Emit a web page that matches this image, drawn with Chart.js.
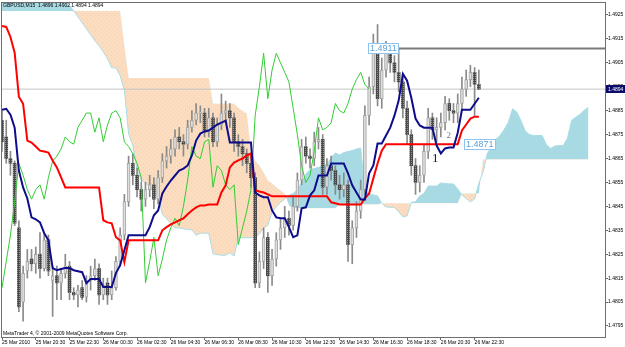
<!DOCTYPE html>
<html><head><meta charset="utf-8">
<script src="https://cdn.jsdelivr.net/npm/chart.js@4.4.0/dist/chart.umd.min.js"></script>
<style>html,body{margin:0;padding:0;background:#fff;overflow:hidden}canvas{display:block}</style>
</head><body>
<canvas id="c" width="625" height="347"></canvas>
<script>
// ---------- DATA ----------
const symbolTitle = "GBPUSD,M15";
const lastOHLC = [1.4896, 1.4902, 1.4894, 1.4894];
const copyrightText = "MetaTrader 4, \u00A9 2001-2009 MetaQuotes Software Corp.";
const xTickBars = [0, 8, 16, 24, 32, 40, 48, 56, 64, 72, 80, 88, 96, 104, 112];
const xTickLabels = ["25 Mar 2010", "25 Mar 20:30", "25 Mar 22:30", "26 Mar 00:30", "26 Mar 02:30",
  "26 Mar 04:30", "26 Mar 06:30", "26 Mar 08:30", "26 Mar 10:30", "26 Mar 12:30", "26 Mar 14:30",
  "26 Mar 16:30", "26 Mar 18:30", "26 Mar 20:30", "26 Mar 22:30"];
const yTicks = [1.4795, 1.4805, 1.4815, 1.4825, 1.4835, 1.4845, 1.4855, 1.4865, 1.4875, 1.4885, 1.4895, 1.4905, 1.4915, 1.4925];

const opens = [1.4881,1.4874,1.4865,1.4863,1.4836,1.4805,1.4818,1.4823,1.4821,1.4825,
 1.4819,1.4831,1.4814,1.4816,1.4813,1.4817,1.4820,1.4809,1.4808,1.4811,
 1.4807,1.4814,1.4816,1.4819,1.4808,1.4813,1.4808,1.4811,1.4822,1.4833,
 1.4847,1.4863,1.4858,1.4852,1.4848,1.4852,1.4854,1.4848,1.4857,1.4864,
 1.4866,1.4869,1.4874,1.4872,1.4871,1.4878,1.4881,1.4884,1.4884,1.4876,
 1.4882,1.4872,1.4879,1.4884,1.4885,1.4882,1.4872,1.4870,1.4867,1.4863,
 1.4857,1.4813,1.4822,1.4832,1.4816,1.4823,1.4831,1.4836,1.4840,1.4837,
 1.4845,1.4856,1.4870,1.4866,1.4865,1.4872,1.4873,1.4853,1.4862,1.4860,
 1.4854,1.4852,1.4854,1.4829,1.4836,1.4843,1.4852,1.4883,1.4895,1.4909,
 1.4890,1.4902,1.4909,1.4905,1.4901,1.4897,1.4886,1.4875,1.4862,1.4855,
 1.4858,1.4868,1.4882,1.4877,1.4878,1.4880,1.4888,1.4885,1.4884,1.4888,
 1.4894,1.4898,1.4901,1.4896];
const highs = [1.4885,1.4881,1.4868,1.4864,1.4839,1.4820,1.4827,1.4827,1.4828,1.4834,
 1.4834,1.4833,1.4820,1.4820,1.4819,1.4825,1.4822,1.4811,1.4812,1.4814,
 1.4816,1.4820,1.4823,1.4821,1.4815,1.4815,1.4818,1.4824,1.4836,1.4850,
 1.4866,1.4867,1.4861,1.4855,1.4855,1.4858,1.4857,1.4860,1.4867,1.4870,
 1.4873,1.4877,1.4878,1.4875,1.4881,1.4885,1.4888,1.4887,1.4886,1.4886,
 1.4884,1.4882,1.4892,1.4889,1.4888,1.4884,1.4875,1.4873,1.4869,1.4866,
 1.4859,1.4826,1.4836,1.4834,1.4827,1.4834,1.4840,1.4845,1.4843,1.4849,
 1.4859,1.4873,1.4874,1.4869,1.4876,1.4878,1.4875,1.4865,1.4866,1.4862,
 1.4858,1.4859,1.4856,1.4839,1.4847,1.4856,1.4887,1.4899,1.4917,1.4921,
 1.4907,1.4914,1.4913,1.4908,1.4911,1.4900,1.4889,1.4877,1.4865,1.4862,
 1.4871,1.4886,1.4884,1.4882,1.4884,1.4891,1.4890,1.4888,1.4892,1.4899,
 1.4902,1.4904,1.4903,1.4902];
const lows = [1.4868,1.4863,1.4858,1.4837,1.4801,1.4797,1.4815,1.4818,1.4817,1.4815,
 1.4818,1.4816,1.4799,1.4806,1.4806,1.4815,1.4806,1.4806,1.4803,1.4806,
 1.4805,1.4810,1.4814,1.4804,1.4806,1.4804,1.4806,1.4810,1.4820,1.4831,
 1.4845,1.4854,1.4849,1.4843,1.4845,1.4849,1.4844,1.4846,1.4855,1.4861,
 1.4863,1.4866,1.4869,1.4866,1.4869,1.4876,1.4879,1.4880,1.4874,1.4874,
 1.4870,1.4870,1.4877,1.4880,1.4878,1.4868,1.4866,1.4862,1.4859,1.4853,
 1.4811,1.4811,1.4819,1.4809,1.4812,1.4820,1.4827,1.4832,1.4833,1.4835,
 1.4843,1.4854,1.4863,1.4861,1.4862,1.4869,1.4850,1.4850,1.4856,1.4850,
 1.4848,1.4849,1.4822,1.4821,1.4832,1.4840,1.4850,1.4879,1.4892,1.4887,
 1.4886,1.4899,1.4901,1.4897,1.4893,1.4882,1.4871,1.4858,1.4850,1.4851,
 1.4855,1.4865,1.4873,1.4872,1.4874,1.4877,1.4881,1.4880,1.4880,1.4885,
 1.4891,1.4895,1.4883,1.4894];
const closes = [1.4872,1.4865,1.4863,1.4838,1.4803,1.4817,1.4822,1.4821,1.4825,1.4819,
 1.4831,1.4818,1.4816,1.4813,1.4817,1.4820,1.4809,1.4808,1.4810,1.4807,
 1.4814,1.4816,1.4819,1.4808,1.4812,1.4808,1.4811,1.4822,1.4833,1.4847,
 1.4863,1.4858,1.4852,1.4848,1.4852,1.4854,1.4848,1.4857,1.4864,1.4866,
 1.4869,1.4874,1.4872,1.4871,1.4878,1.4881,1.4884,1.4884,1.4876,1.4882,
 1.4872,1.4879,1.4884,1.4885,1.4882,1.4872,1.4870,1.4867,1.4863,1.4857,
 1.4813,1.4822,1.4832,1.4816,1.4823,1.4831,1.4836,1.4840,1.4837,1.4845,
 1.4856,1.4870,1.4866,1.4865,1.4872,1.4873,1.4853,1.4862,1.4860,1.4854,
 1.4852,1.4854,1.4829,1.4836,1.4843,1.4852,1.4883,1.4895,1.4909,1.4890,
 1.4902,1.4909,1.4905,1.4901,1.4897,1.4886,1.4875,1.4862,1.4855,1.4858,
 1.4868,1.4882,1.4877,1.4878,1.4880,1.4888,1.4885,1.4884,1.4888,1.4894,
 1.4898,1.4901,1.4896,1.4894];

const tenkan = [1.48854,1.48858,1.48833,1.48779,1.48600,1.48529,1.48483,1.48404,1.48396,1.48383,
 1.48338,1.48308,1.48192,1.48183,1.48188,1.48192,1.48192,1.48183,1.48179,1.48175,
 1.48129,1.48146,1.48146,1.48146,1.48113,1.48113,1.48113,1.48171,1.48204,1.48267,
 1.48329,1.48329,1.48329,1.48329,1.48329,1.48363,1.48413,1.48433,1.48504,1.48533,
 1.48558,1.48579,1.48600,1.48608,1.48621,1.48663,1.48725,1.48754,1.48763,1.48767,
 1.48779,1.48792,1.48800,1.48808,1.48717,1.48717,1.48717,1.48717,1.48717,1.48717,
 1.48508,1.48496,1.48488,1.48488,1.48433,1.48404,1.48400,1.48400,1.48363,1.48321,
 1.48329,1.48442,1.48446,1.48496,1.48517,1.48579,1.48579,1.48579,1.48629,1.48629,
 1.48629,1.48629,1.48588,1.48538,1.48508,1.48479,1.48479,1.48588,1.48621,1.48713,
 1.48713,1.48746,1.48779,1.48829,1.48892,1.49004,1.48975,1.48904,1.48817,1.48788,
 1.48779,1.48779,1.48779,1.48704,1.48671,1.48692,1.48696,1.48696,1.48758,1.48854,
 1.48854,1.48854,1.48879,1.48904];
const kijun = [1.49204,1.49200,1.49158,1.49092,1.48908,1.48879,1.48725,1.48717,1.48700,1.48683,
 1.48679,1.48675,1.48642,1.48613,1.48571,1.48529,1.48529,1.48529,1.48529,1.48529,
 1.48529,1.48529,1.48529,1.48529,1.48392,1.48383,1.48379,1.48321,1.48308,1.48217,
 1.48308,1.48308,1.48308,1.48308,1.48308,1.48308,1.48308,1.48308,1.48350,1.48363,
 1.48375,1.48383,1.48392,1.48400,1.48417,1.48433,1.48446,1.48454,1.48454,1.48458,
 1.48458,1.48458,1.48508,1.48538,1.48613,1.48633,1.48642,1.48650,1.48663,1.48671,
 1.48517,1.48512,1.48508,1.48500,1.48492,1.48492,1.48492,1.48492,1.48492,1.48492,
 1.48492,1.48492,1.48492,1.48492,1.48492,1.48492,1.48492,1.48492,1.48467,1.48463,
 1.48458,1.48458,1.48458,1.48458,1.48458,1.48458,1.48483,1.48504,1.48567,1.48629,
 1.48683,1.48710,1.48710,1.48710,1.48710,1.48710,1.48710,1.48710,1.48710,1.48710,
 1.48710,1.48710,1.48710,1.48710,1.48710,1.48710,1.48710,1.48710,1.48710,1.48767,
 1.48792,1.48817,1.48825,1.48825];
const senkouA = [1.4950,1.4949,1.4948,1.4947,1.4946,1.4945,1.4944,1.4942,1.4940,1.4939,
 1.4938,1.4936,1.4935,1.4933,1.4932,1.4930,1.4929,1.49267,1.49242,1.49217,
 1.49192,1.49167,1.49142,1.49121,1.49096,1.49067,1.49029,1.49029,1.48996,1.48935,
 1.48754,1.48704,1.48604,1.48560,1.48548,1.48533,1.48508,1.48492,1.48417,1.48398,
 1.48379,1.48360,1.48360,1.48356,1.48354,1.48352,1.48329,1.48338,1.48338,1.48338,
 1.48252,1.48248,1.48246,1.48246,1.48256,1.48242,1.48319,1.48319,1.48319,1.48319,
 1.48319,1.48335,1.48360,1.48371,1.48427,1.48448,1.48467,1.48481,1.48496,1.48504,
 1.48519,1.48548,1.48585,1.48604,1.48608,1.48613,1.48619,1.48625,1.48654,1.48673,
 1.48665,1.48675,1.48679,1.48683,1.48690,1.48694,1.48513,1.48504,1.48498,1.48494,
 1.48463,1.48448,1.48446,1.48446,1.48427,1.48406,1.48410,1.48467,1.48469,1.48494,
 1.48504,1.48535,1.48535,1.48535,1.48548,1.48546,1.48544,1.48544,1.48523,1.48498,
 1.48483,1.48469,1.48481,1.48546,1.48594,1.48671,1.48698,1.48729,1.48746,1.48771,
 1.48802,1.48858,1.48844,1.48808,1.48765,1.48750,1.48746,1.48746,1.48746,1.48708,
 1.48692,1.48702,1.48704,1.48704,1.48735,1.48810,1.48823,1.48835,1.48852,1.48864];
const senkouB = [1.49267,1.49267,1.49267,1.49267,1.49267,1.49267,1.49267,1.49267,1.49267,1.49267,
 1.49267,1.49267,1.49267,1.49267,1.49267,1.49267,1.49267,1.49267,1.49267,1.49267,
 1.49267,1.49267,1.49267,1.49267,1.49267,1.49267,1.49267,1.49267,1.49267,1.49121,
 1.48987,1.48987,1.48987,1.48987,1.48987,1.48987,1.48987,1.48987,1.48987,1.48987,
 1.48987,1.48987,1.48987,1.48987,1.48987,1.48987,1.48987,1.48987,1.48987,1.48987,
 1.48879,1.48879,1.48879,1.48879,1.48879,1.48879,1.48862,1.48850,1.48837,1.48683,
 1.48642,1.48621,1.48592,1.48558,1.48546,1.48529,1.48517,1.48504,1.48454,1.48442,
 1.48442,1.48442,1.48442,1.48442,1.48442,1.48442,1.48442,1.48442,1.48442,1.48442,
 1.48458,1.48458,1.48458,1.48458,1.48458,1.48458,1.48458,1.48458,1.48458,1.48458,
 1.48463,1.48463,1.48463,1.48463,1.48463,1.48463,1.48463,1.48463,1.48463,1.48463,
 1.48463,1.48463,1.48463,1.48463,1.48463,1.48463,1.48463,1.48463,1.48463,1.48504,
 1.48504,1.48504,1.48504,1.48504,1.48646,1.48646,1.48646,1.48646,1.48646,1.48646,
 1.48646,1.48646,1.48646,1.48646,1.48646,1.48646,1.48646,1.48646,1.48646,1.48646,
 1.48646,1.48646,1.48646,1.48646,1.48646,1.48646,1.48646,1.48646,1.48646,1.48646];
const chikouShift = 26;
const currentPrice = 1.4894;
const levelPrice = 1.4911;
const levelStartBar = 94;
const kijunLevel = 1.4871;

// ---------- BUILD ----------
const FONT = '"Liberation Sans", Arial, sans-serif';
function mkPattern(w, h, base, dots, dotColor) {
  const c = document.createElement('canvas'); c.width = w; c.height = h;
  const g = c.getContext('2d'); g.fillStyle = base; g.fillRect(0, 0, w, h);
  g.fillStyle = dotColor; dots.forEach(d => g.fillRect(d[0], d[1], 1, 1));
  return document.getElementById('c').getContext('2d').createPattern(c, 'repeat');
}
const peachFill = mkPattern(4, 4, '#FCDDC0', [[1, 1], [3, 3]], '#F4D0AE');
const bearFill = mkPattern(2, 2, '#4A4A4A', [[1, 0]], '#909090');

const pts = arr => arr.map((v, i) => ({x: i, y: v}));
const wickData = highs.map((h, i) => ({x: i, y: [lows[i], h]}));
const bullData = [], bearData = [];
opens.forEach((o, i) => {
  const c = closes[i];
  if (c >= o) bullData.push({x: i, y: [o, c]}); else bearData.push({x: i, y: [c, o]});
});
const chikouData = closes.slice(chikouShift).map((v, i) => ({x: i, y: v}));
const XMAX = 142.9;

const overlay = {
  id: 'overlay',
  afterDatasetsDraw(chart) {
    const ctx = chart.ctx, xs = chart.scales.x, ys = chart.scales.y, ca = chart.chartArea;
    ctx.save();
    ctx.beginPath(); ctx.rect(ca.left, ca.top, ca.right - ca.left, ca.bottom - ca.top); ctx.clip();
    function boxLabel(text, x, y, alignRight) {
      ctx.font = '9px ' + FONT;
      const w = Math.round(ctx.measureText(text).width) + 4, h = 11;
      const bx = alignRight ? x - w : x, by = Math.round(y - h / 2);
      ctx.fillStyle = '#ffffff'; ctx.fillRect(bx, by, w, h);
      ctx.strokeStyle = '#8EC5EE'; ctx.lineWidth = 1; ctx.strokeRect(bx + 0.5, by + 0.5, w - 1, h - 1);
      ctx.fillStyle = '#5EA3DC'; ctx.textBaseline = 'middle'; ctx.textAlign = 'left';
      ctx.fillText(text, bx + 2, by + h / 2 + 0.5);
    }
    boxLabel(levelPrice.toFixed(4), Math.round(xs.getPixelForValue(levelStartBar)), ys.getPixelForValue(levelPrice), true);
    boxLabel(kijunLevel.toFixed(4), Math.round(xs.getPixelForValue(109.4)), ys.getPixelForValue(kijunLevel), false);
    ctx.textAlign = 'center'; ctx.textBaseline = 'middle';
    ctx.font = '13px "Liberation Serif", serif'; ctx.fillStyle = '#1E1E1E';
    ctx.fillText('1', xs.getPixelForValue(102.7), ys.getPixelForValue(1.4865));
    ctx.font = '9px "Liberation Serif", serif'; ctx.fillStyle = '#7A7A7A';
    ctx.fillText('2', xs.getPixelForValue(105.9), ys.getPixelForValue(1.48746));
    ctx.textAlign = 'left'; ctx.textBaseline = 'middle'; ctx.fillStyle = '#000';
    ctx.font = '5px ' + FONT;
    ctx.fillText(symbolTitle + '  ' + lastOHLC.map(v => v.toFixed(4)).join(' '), 3, 6);
    ctx.fillText(copyrightText, 3, 334);
    ctx.restore();
  },
  afterDraw(chart) {
    const ctx = chart.ctx, ys = chart.scales.y, ca = chart.chartArea;
    ctx.save();
    ctx.strokeStyle = '#6E6E6E'; ctx.lineWidth = 1;
    ctx.strokeRect(ca.left - 0.5, ca.top - 0.5, ca.right - ca.left + 1, ca.bottom - ca.top + 1);
    const py = Math.round(ys.getPixelForValue(currentPrice));
    ctx.fillStyle = '#0B0B6A'; ctx.fillRect(ca.right + 1, py - 4, 19, 8);
    ctx.fillStyle = '#ffffff'; ctx.font = '5px ' + FONT; ctx.textBaseline = 'middle'; ctx.textAlign = 'left';
    ctx.fillText(currentPrice.toFixed(4), ca.right + 3, py + 0.5);
    ctx.restore();
  }
};

new Chart(document.getElementById('c'), {
  type: 'line',
  data: {
    datasets: [
      {type: 'line', label: 'Senkou A', data: pts(senkouA), borderColor: '#A9DCE6', borderWidth: 1,
       pointRadius: 0, tension: 0, order: 20, fill: {target: 1, above: '#A8DAE4', below: peachFill}},
      {type: 'line', label: 'Senkou B', data: pts(senkouB), borderColor: 'rgba(0,0,0,0)', borderWidth: 0,
       pointRadius: 0, tension: 0, order: 19, fill: false},
      {type: 'line', label: 'Price', data: [{x: 0, y: currentPrice}, {x: XMAX, y: currentPrice}],
       borderColor: '#C4C4C4', borderWidth: 1, pointRadius: 0, order: 18, fill: false},
      {type: 'bar', label: 'Wicks', data: wickData, backgroundColor: '#8A8A8A', barThickness: 1,
       grouped: false, order: 17},
      {type: 'bar', label: 'Bull', data: bullData, backgroundColor: '#DEDEDE', borderColor: '#A4A4A4',
       borderWidth: 1, borderSkipped: false, barThickness: 3, grouped: false, minBarLength: 1, order: 16},
      {type: 'bar', label: 'Bear', data: bearData, backgroundColor: bearFill, borderWidth: 0,
       barThickness: 3, grouped: false, minBarLength: 1, order: 15},
      {type: 'line', label: 'Chikou', data: chikouData, borderColor: '#33CC33', borderWidth: 1,
       pointRadius: 0, tension: 0, order: 14, fill: false},
      {type: 'line', label: 'Kijun', data: pts(kijun), borderColor: '#FF0000', borderWidth: 2,
       pointRadius: 0, tension: 0, order: 13, fill: false},
      {type: 'line', label: 'Tenkan', data: pts(tenkan), borderColor: '#0D0D8C', borderWidth: 2,
       pointRadius: 0, tension: 0, order: 12, fill: false},
      {type: 'line', label: 'Level', data: [{x: levelStartBar, y: levelPrice}, {x: XMAX, y: levelPrice}],
       borderColor: '#7A7A7A', borderWidth: 2, pointRadius: 0, order: 11, fill: false}
    ]
  },
  options: {
    responsive: false, animation: false, events: [],
    layout: {padding: {left: 2, top: 2, right: 0, bottom: 0}},
    plugins: {legend: {display: false}, tooltip: {enabled: false}, title: {display: false}},
    scales: {
      x: {
        type: 'linear', min: 0, max: XMAX, offset: false,
        afterFit: s => { s.height = 10; },
        afterBuildTicks: s => { s.ticks = xTickBars.map(v => ({value: v})); },
        grid: {drawOnChartArea: false, drawTicks: true, tickLength: 3, color: '#6E6E6E', offset: false},
        border: {display: false},
        ticks: {
          autoSkip: false, maxRotation: 0, minRotation: 0, align: 'start', padding: 0,
          color: '#000', font: {family: FONT, size: 5},
          callback: (v) => { const k = xTickBars.indexOf(v); return k >= 0 ? xTickLabels[k] : ''; }
        }
      },
      y: {
        type: 'linear', position: 'right', min: 1.47904, max: 1.4930,
        afterFit: s => { s.width = 20; },
        afterBuildTicks: s => { s.ticks = yTicks.map(v => ({value: v})); },
        grid: {drawOnChartArea: false, drawTicks: true, tickLength: 3, color: '#6E6E6E'},
        border: {display: false},
        ticks: {padding: 0, color: '#000', font: {family: FONT, size: 5},
          callback: v => Number(v).toFixed(4)}
      }
    }
  },
  plugins: [overlay]
});
</script>
</body></html>
